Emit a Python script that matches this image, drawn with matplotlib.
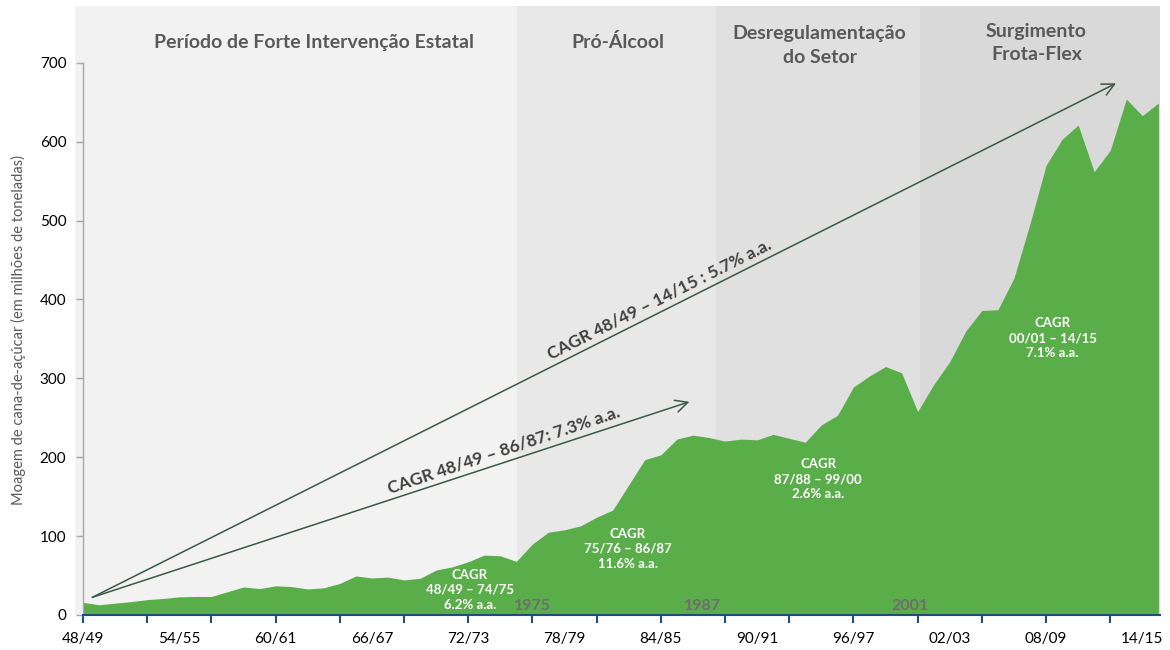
import matplotlib
matplotlib.use('Agg')
import matplotlib.pyplot as plt
from matplotlib.ticker import FixedLocator, FixedFormatter, NullFormatter

plt.rcParams['font.family'] = ['Lato', 'DejaVu Sans']

seasons = ['48/49', '49/50', '50/51', '51/52', '52/53', '53/54', '54/55', '55/56',
           '56/57', '57/58', '58/59', '59/60', '60/61', '61/62', '62/63', '63/64',
           '64/65', '65/66', '66/67', '67/68', '68/69', '69/70', '70/71', '71/72',
           '72/73', '73/74', '74/75', '75/76', '76/77', '77/78', '78/79', '79/80',
           '80/81', '81/82', '82/83', '83/84', '84/85', '85/86', '86/87', '87/88',
           '88/89', '89/90', '90/91', '91/92', '92/93', '93/94', '94/95', '95/96',
           '96/97', '97/98', '98/99', '99/00', '00/01', '01/02', '02/03', '03/04',
           '04/05', '05/06', '06/07', '07/08', '08/09', '09/10', '10/11', '11/12',
           '12/13', '13/14', '14/15', '15/16']

crush = [16, 13, 15, 17, 19.5, 21, 23, 23.5, 23.5, 29.5, 35.5, 33.5, 37, 36, 33, 34.5,
         40, 49.5, 47, 48, 44.5, 46.5, 57, 61, 67.5, 76, 75, 68, 90, 105, 108, 113,
         124, 133, 165, 197, 203, 223, 228, 225, 220.5, 223, 222, 229, 224, 219, 241, 253,
         289, 303, 315, 307, 258, 292, 321, 360, 386, 387, 427, 496, 570, 603, 621, 562,
         589, 654, 633, 649]

period_names = ['Período de Forte Intervenção Estatal', 'Pró-Álcool',
                'Desregulamentação\ndo Setor', 'Surgimento\nFrota-Flex']
period_start = [-0.5, 27.05, 39.45, 52.15]
period_end = [27.05, 39.45, 52.15, 67.1]
period_colors = ['#f2f2f2', '#e8e8e8', '#e0e0e0', '#d9d9d9']

cagr_texts = ['CAGR\n48/49 – 74/75\n6.2% a.a.', 'CAGR\n75/76 – 86/87\n11.6% a.a.',
              'CAGR\n87/88 – 99/00\n2.6% a.a.', 'CAGR\n00/01 – 14/15\n7.1% a.a.']
cagr_x = [24.1, 33.95, 45.8, 60.4]
cagr_y = [32, 84, 172, 351]

year_marks = ['1975', '1987', '2001']
year_x = [28.0, 38.6, 51.5]

x = list(range(len(crush)))

fig = plt.figure(figsize=(11.7, 6.5), dpi=100)
ax = fig.add_axes([75 / 1170, 35 / 650, (1160 - 75) / 1170, (615 - 6) / 650])
ax.set_xlim(-0.5, 67.1)
ax.set_ylim(0, 772)

for s, e, c in zip(period_start, period_end, period_colors):
    ax.axvspan(s, e, color=c, lw=0, zorder=0)

ax.fill_between(x, crush, 0, color='#5aae4a', lw=0, zorder=2)

# period titles
title_x = [14.4, 33.3, 45.9, 59.4]
title_y = [726, 726, 722, 725]
for name, tx, ty in zip(period_names, title_x, title_y):
    ax.text(tx, ty, name, ha='center', va='center', fontsize=14, fontweight='bold',
            color='#595959', linespacing=1.45, zorder=5)

# CAGR labels inside area
for t, cx, cy in zip(cagr_texts, cagr_x, cagr_y):
    ax.text(cx, cy, t, ha='center', va='center', fontsize=9.5, fontweight='bold',
            color='white', linespacing=1.3, zorder=5)

for t, yx in zip(year_marks, year_x):
    ax.text(yx, 11, t, ha='center', va='center', fontsize=11.5, fontweight='bold',
            color='#6e6e6e', zorder=5)

# arrows
arrow_color = '#3b5948'
ax.annotate('', xy=(64.36, 674), xytext=(0.58, 22.4),
            arrowprops=dict(arrowstyle='->', color=arrow_color, lw=1.1,
                            mutation_scale=22, shrinkA=0, shrinkB=0), zorder=4)
ax.annotate('', xy=(37.78, 270.3), xytext=(0.58, 22.4),
            arrowprops=dict(arrowstyle='->', color=arrow_color, lw=1.1,
                            mutation_scale=22, shrinkA=0, shrinkB=0), zorder=4)
ax.text(35.9, 400, 'CAGR 48/49 – 14/15 : 5.7% a.a.', rotation=26.7,
        rotation_mode='anchor', ha='center', va='center', fontsize=12.5,
        fontweight='bold', color='#404040', zorder=5)
ax.text(26.2, 209, 'CAGR 48/49 – 86/87: 7.3% a.a.', rotation=18.5,
        rotation_mode='anchor', ha='center', va='center', fontsize=12.5,
        fontweight='bold', color='#404040', zorder=5)

# axes styling
for side in ['top', 'right']:
    ax.spines[side].set_visible(False)
ax.spines['left'].set_position(('data', 0))
ax.spines['left'].set_bounds(0, 700)
ax.spines['left'].set_color('#a6a6a6')
ax.spines['left'].set_linewidth(1.0)
ax.spines['bottom'].set_bounds(0, 67.1)
ax.spines['bottom'].set_color('#1f4e79')
ax.spines['bottom'].set_linewidth(1.5)
ax.spines['left'].set_zorder(6)
ax.spines['bottom'].set_zorder(6)

ax.set_yticks(range(0, 701, 100))
ax.tick_params(axis='y', direction='out', length=5, width=1, color='#a6a6a6',
               labelsize=11, labelcolor='black', pad=7)

ax.xaxis.remove_overlapping_locs = False
ax.xaxis.set_major_locator(FixedLocator(list(range(0, 68, 4))))
ax.xaxis.set_major_formatter(NullFormatter())
label_pos = list(range(0, 68, 6))
ax.xaxis.set_minor_locator(FixedLocator(label_pos))
ax.xaxis.set_minor_formatter(FixedFormatter([seasons[i] for i in label_pos]))
ax.tick_params(axis='x', which='major', direction='out', length=6, width=1.5,
               color='#1f4e79')
ax.tick_params(axis='x', which='minor', length=0, labelsize=11, labelcolor='black', pad=12)

fig.text(18 / 1170, 1 - 330 / 650, 'Moagem de cana-de-açúcar (em milhões de toneladas)',
         rotation=90, ha='center', va='center', fontsize=10.5, color='#595959')

fig.savefig('out.png', dpi=100)
